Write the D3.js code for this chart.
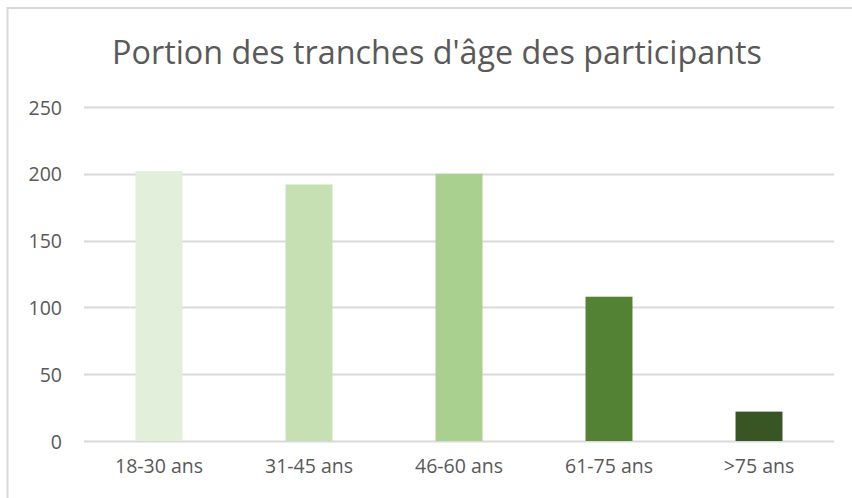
<!DOCTYPE html>
<html>
<head>
<meta charset="utf-8">
<script src="https://cdn.jsdelivr.net/npm/d3@7"></script>
<style>
  body { margin: 0; background: #fff; }
  text { font-family: "Open Sans", "Liberation Sans", sans-serif; fill: #595959; }
</style>
</head>
<body>
<div id="chart"></div>
<script>
// data
const categories = ["18-30 ans", "31-45 ans", "46-60 ans", "61-75 ans", ">75 ans"];
const values = [202, 192, 200, 108, 22];
const colors = ["#e2efda", "#c6e0b4", "#a9d08e", "#548235", "#375623"];
const yTicks = [0, 50, 100, 150, 200, 250];
const title = "Portion des tranches d'âge des participants";

const W = 852, H = 498;
const margin = { top: 107, right: 18, bottom: 57, left: 84 };

const svg = d3.select("#chart")
  .append("svg")
  .attr("width", W)
  .attr("height", H);

// chart frame
svg.append("rect")
  .attr("x", 7.5)
  .attr("y", 8)
  .attr("width", W)
  .attr("height", H)
  .attr("fill", "none")
  .attr("stroke", "#d9d9d9")
  .attr("stroke-width", 2);

const x = d3.scaleBand()
  .domain(categories)
  .range([margin.left, W - margin.right])
  .paddingInner(0.687)
  .paddingOuter(0.3435);

const y = d3.scaleLinear()
  .domain([0, 250])
  .range([H - margin.bottom, margin.top]);

// gridlines
svg.append("g")
  .selectAll("line")
  .data(yTicks)
  .enter()
  .append("line")
  .attr("x1", margin.left)
  .attr("x2", W - margin.right)
  .attr("y1", d => Math.round(y(d)) + 0.5)
  .attr("y2", d => Math.round(y(d)) + 0.5)
  .attr("stroke", "#d9d9d9")
  .attr("stroke-width", 2);

// bars
svg.append("g")
  .selectAll("rect")
  .data(values)
  .enter()
  .append("rect")
  .attr("x", (d, i) => x(categories[i]))
  .attr("y", d => y(d))
  .attr("width", x.bandwidth())
  .attr("height", d => y(0) - y(d))
  .attr("fill", (d, i) => colors[i]);

// y axis labels
const yAxis = svg.append("g")
  .attr("transform", `translate(${margin.left - 22},0)`)
  .call(d3.axisLeft(y).tickValues(yTicks).tickSize(0).tickPadding(0));
yAxis.select(".domain").remove();
yAxis.selectAll("text")
  .attr("font-size", 19.5)
  .attr("font-family", null)
  .attr("fill", "#595959")
  .attr("dy", "0.36em");

// x axis labels
const xAxis = svg.append("g")
  .attr("transform", `translate(0,${y(0) + 18})`)
  .call(d3.axisBottom(x).tickSize(0).tickPadding(0));
xAxis.select(".domain").remove();
xAxis.selectAll("text")
  .attr("font-size", 19.5)
  .attr("font-family", null)
  .attr("fill", "#595959")
  .attr("dy", "0.71em");

// title, scaled to the width it takes in the reference
const t = svg.append("text")
  .attr("x", 437)
  .attr("y", 64)
  .attr("text-anchor", "middle")
  .attr("font-size", 28)
  .text(title);
const tw = t.node().getComputedTextLength();
t.attr("font-size", 28 * 650 / tw);
</script>
</body>
</html>
